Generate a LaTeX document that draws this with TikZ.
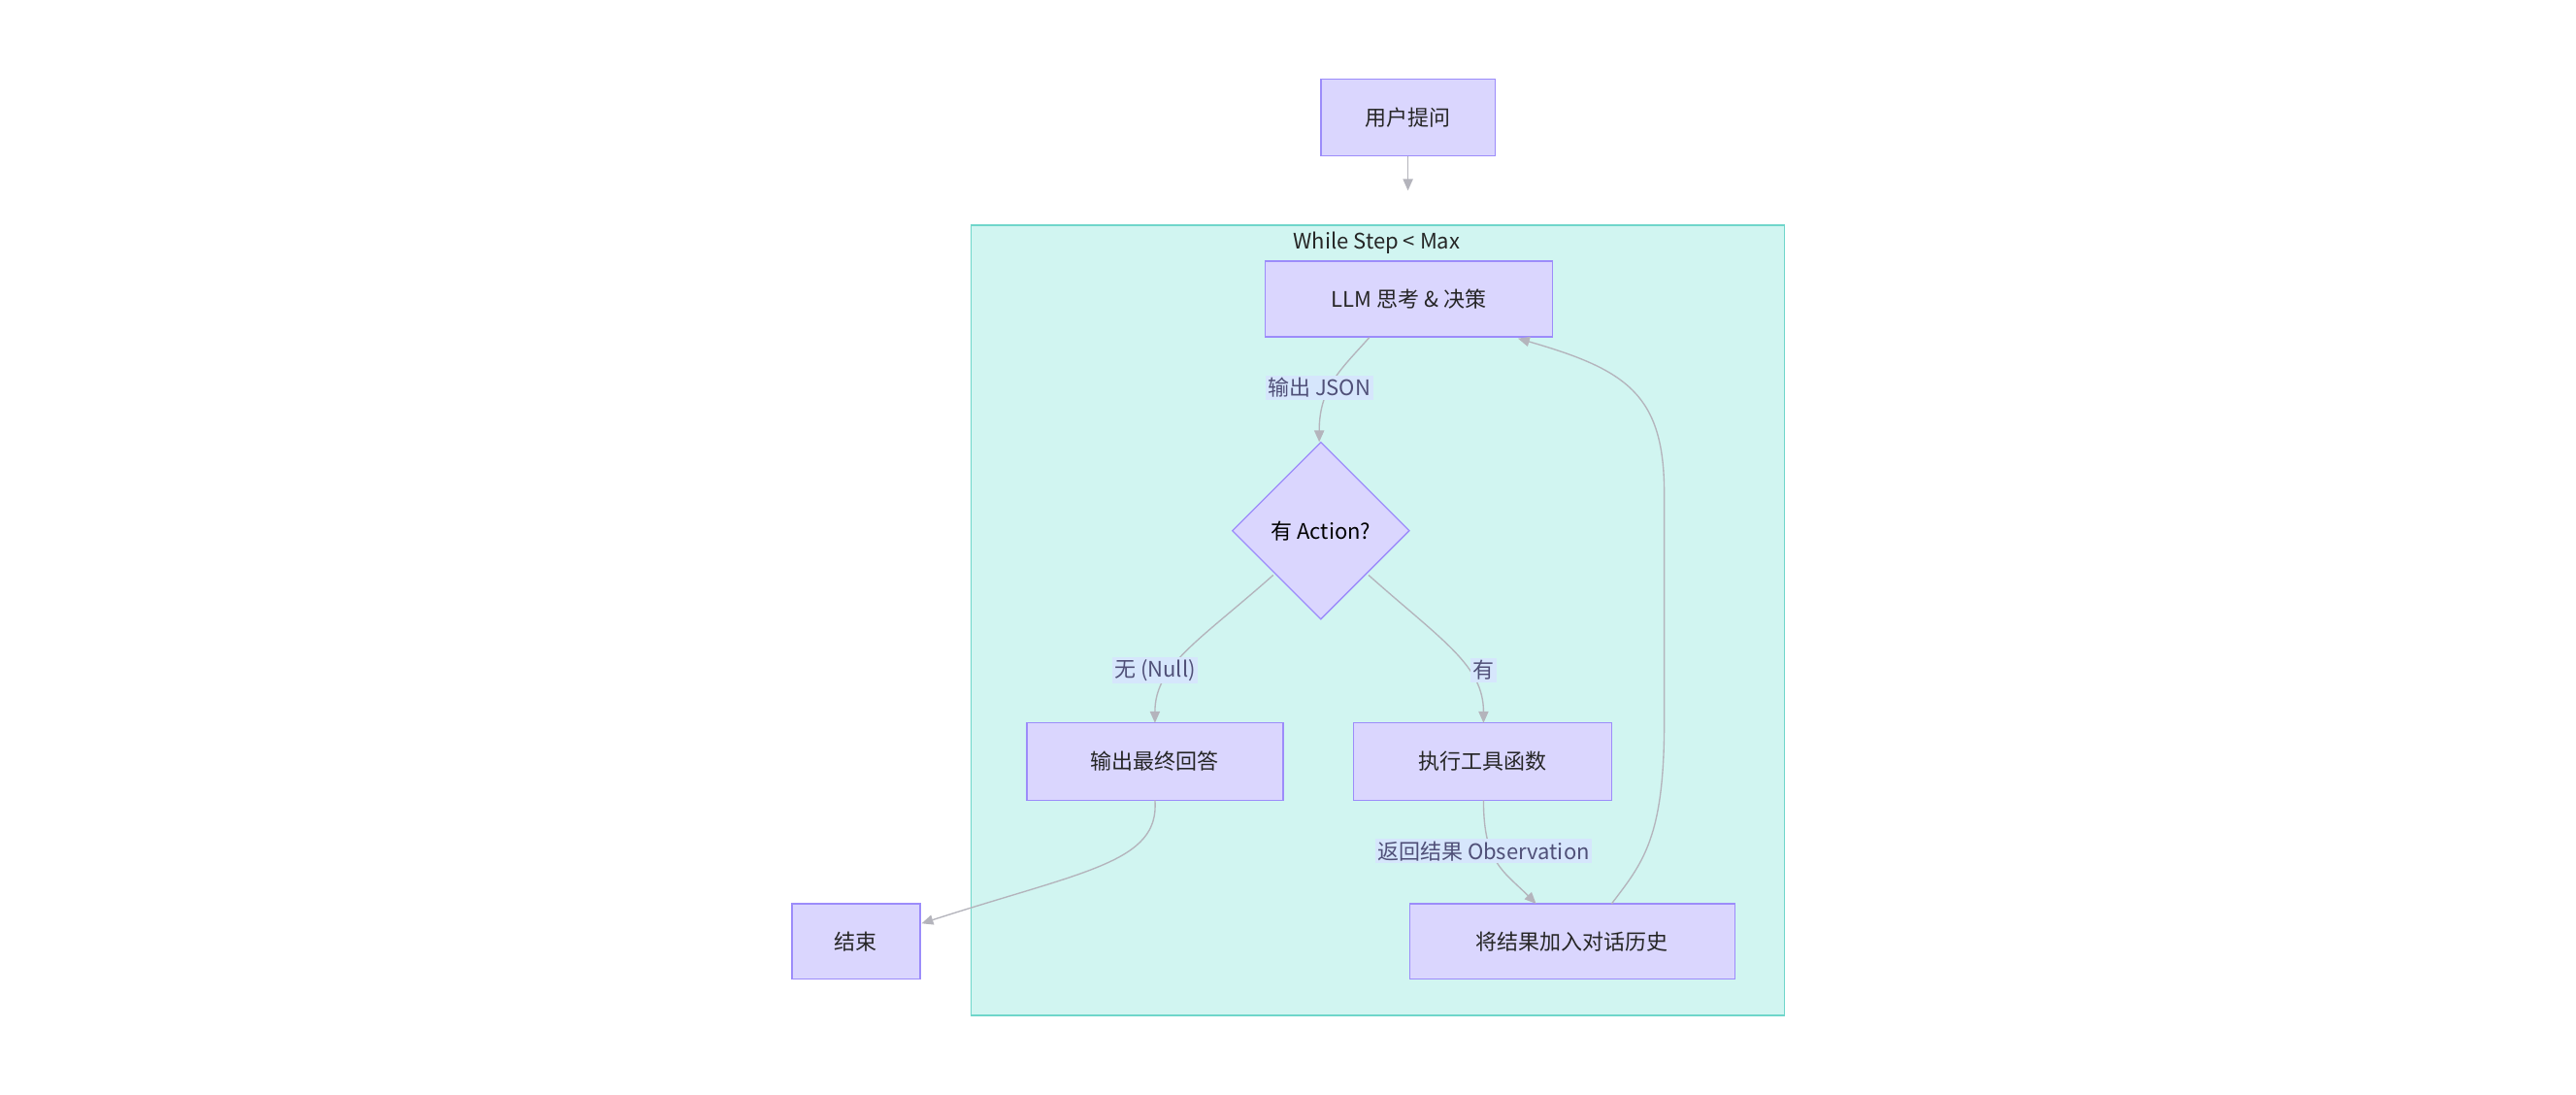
\documentclass[tikz,border=0pt]{standalone}
\usepackage{fontspec}
\setmainfont{Noto Sans CJK SC}
\usetikzlibrary{shapes.geometric,arrows.meta}
\definecolor{nfill}{HTML}{DAD6FE}
\definecolor{nline}{HTML}{9C8CFA}
\definecolor{cfill}{HTML}{D1F5F1}
\definecolor{cline}{HTML}{6FD6CA}
\definecolor{eline}{HTML}{B4B4BC}
\definecolor{lfill}{HTML}{D6E6FC}
\definecolor{ltext}{HTML}{505078}
\begin{document}
\begin{tikzpicture}[x=1pt,y=-1pt,
  box/.style={draw=nline,fill=nfill,line width=0.8pt,font=\fontsize{13}{15}\selectfont,text=black!85},
  dia/.style={diamond,draw=nline,fill=nfill,line width=0.8pt,font=\fontsize{13}{15}\selectfont,inner sep=0pt,minimum width=108pt,minimum height=108pt},
  edge/.style={draw=eline,line width=0.8pt,-{Triangle[length=7pt,width=6pt]}},
  lab/.style={fill=lfill,text=ltext,font=\fontsize{13}{15}\selectfont,inner sep=1.5pt}]
\useasboundingbox (0,0) rectangle (1568,666);
\fill[cfill,draw=cline,line width=0.8pt] (591,137) rectangle (1086,618);
\node[font=\fontsize{13}{15}\selectfont,text=black!85] (title) at (838,148) {While Step < Max};
\node[box,minimum width=106pt,minimum height=47pt] (q) at (857,71.5) {用户提问};
\coordinate (qe) at (857,116);
\node[box,minimum width=175pt,minimum height=46pt] (llm) at (857.5,182) {LLM 思考 \& 决策};
\node[dia] (d) at (804,323) {有 Action?};
\node[box,minimum width=156pt,minimum height=47pt] (fin) at (703,463.5) {输出最终回答};
\node[box,minimum width=157pt,minimum height=47pt] (tool) at (902.5,463.5) {执行工具函数};
\node[box,minimum width=78pt,minimum height=46pt] (end) at (521,573) {结束};
\node[box,minimum width=198pt,minimum height=46pt] (hist) at (957,573) {将结果加入对话历史};
\draw[edge] (q.south) -- (qe);
\draw[edge] (llm.south)+(-24,0) .. controls (816,225) and (803,236) .. (803,269);
\node[lab] at (803,236) {输出 JSON};
\draw[edge] (775,350) .. controls (730,390) and (703,405) .. (703,440);
\node[lab] at (703,408) {无 (Null)};
\draw[edge] (833,350) .. controls (878,390) and (903,405) .. (903,440);
\node[lab] at (903,408) {有};
\draw[edge] (903,487) .. controls (903,525) and (915,530) .. (935,550);
\node[lab] at (903,518) {返回结果 Observation};
\draw[edge] (703,487) .. controls (706,525) and (660,530) .. (561,562);
\draw[edge] (981,550) .. controls (1000,525) and (1013,510) .. (1013,440) -- (1013,300) .. controls (1013,240) and (990,225) .. (924,206);
\end{tikzpicture}
\end{document}
